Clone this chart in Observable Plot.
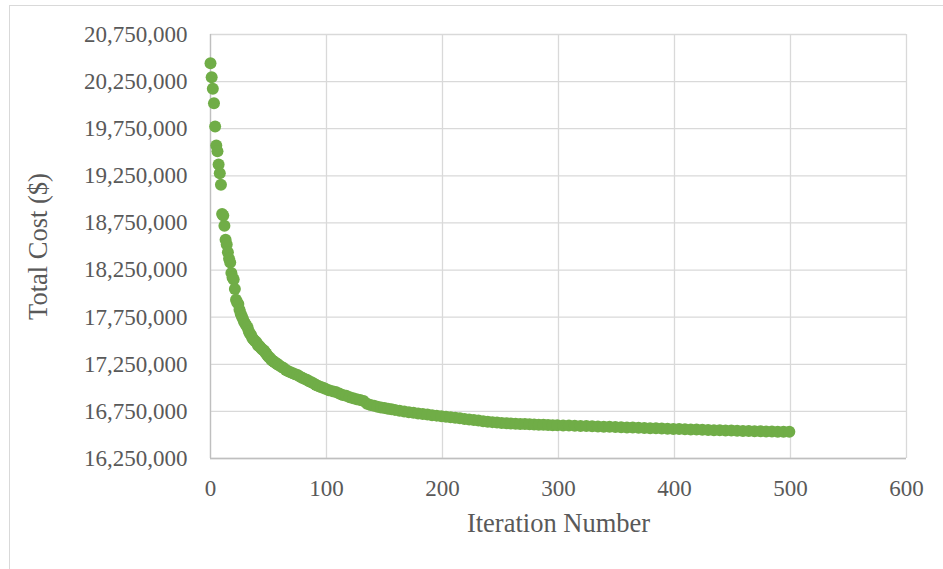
<!DOCTYPE html>
<html>
<head>
<meta charset="utf-8">
<script src="https://cdn.jsdelivr.net/npm/d3@7"></script>
<script src="https://cdn.jsdelivr.net/npm/@observablehq/plot@0.6"></script>
<style>
  html, body { margin: 0; padding: 0; background: #fff; overflow: hidden; }
  #wrap { position: relative; width: 943px; height: 569px; }
  #border { position: absolute; left: 9px; top: 5px; width: 960px; height: 620px; border: 1px solid #d9d9d9; box-sizing: border-box; pointer-events: none; }
  #chart { position: absolute; left: 0; top: 0; }
</style>
</head>
<body>
<div id="wrap"><div id="border"></div><div id="chart"></div></div>
<script>
const iterations = [
  0,1,2,3,4,5,6,7,8,9,10,11,12,13,14,15,16,17,18,19,20,21,22,23,24,25,26,27,28,29,
  30,31,32,33,34,35,36,37,38,39,40,41,42,43,44,45,46,47,48,49,50,51,52,53,54,55,56,57,58,59,
  61,63,65,67,69,71,73,75,77,79,81,83,85,87,89,91,93,95,97,99,
  102,105,108,111,114,117,120,123,126,129,132,135,138,141,144,147,150,153,156,159,
  163,167,171,175,179,183,187,191,195,199,203,207,211,215,219,223,227,231,235,239,
  243,247,251,255,259,263,267,271,275,279,283,287,291,295,299,
  304,309,314,319,324,329,334,339,344,349,354,359,364,369,374,379,384,389,394,399,
  404,409,414,419,424,429,434,439,444,449,454,459,464,469,474,479,484,489,494,499
];
const totalCost = [
  20445000,20297000,20174000,20021000,19774000,19572000,19511000,19370000,19278000,19155000,
  18845000,18830000,18720000,18571000,18520000,18440000,18370000,18330000,18220000,18170000,
  18150000,18050000,17935000,17905000,17890000,17830000,17790000,17760000,17730000,17700000,
  17680000,17660000,17640000,17600000,17575000,17560000,17530000,17515000,17500000,17490000,
  17475000,17450000,17445000,17430000,17415000,17404000,17395000,17380000,17365000,17345000,
  17330000,17320000,17305000,17290000,17285000,17275000,17265000,17255000,17250000,17240000,
  17225000,17210000,17190000,17175000,17165000,17155000,17145000,17135000,17120000,17108000,
  17095000,17085000,17070000,17060000,17045000,17030000,17020000,17010000,17000000,16990000,
  16975000,16965000,16955000,16940000,16925000,16915000,16900000,16890000,16880000,16872000,
  16860000,16830000,16818000,16810000,16800000,16792000,16785000,16778000,16772000,16766000,
  16758000,16750000,16742000,16735000,16728000,16722000,16716000,16710000,16705000,16699000,
  16694000,16688000,16683000,16676000,16670000,16664000,16658000,16652000,16646000,16641000,
  16636000,16632000,16628000,16625000,16622000,16619000,16617000,16615000,16613000,16611000,
  16609000,16607000,16605000,16604000,16603000,
  16601000,16599000,16597000,16596000,16594000,16592000,16590000,16588000,16586000,16584000,
  16582000,16580000,16578000,16576000,16574000,16572000,16570000,16568000,16566000,16564000,
  16562000,16560000,16559000,16557000,16555000,16553000,16551000,16550000,16548000,16546000,
  16545000,16543000,16542000,16540000,16539000,16537000,16536000,16535000,16534000,16533000
];
const xTicks = [0, 100, 200, 300, 400, 500, 600];
const yTicks = [16250000, 16750000, 17250000, 17750000, 18250000, 18750000, 19250000, 19750000, 20250000, 20750000];
const xTitle = "Iteration Number";
const yTitle = "Total Cost ($)";

const data = iterations.map((it, i) => ({iteration: it, cost: totalCost[i]}));

const chart = Plot.plot({
  width: 943,
  height: 569,
  marginLeft: 210,
  marginRight: 37,
  marginTop: 34,
  marginBottom: 111,
  style: {fontFamily: "'Liberation Serif', 'Times New Roman', serif", fontSize: "23px", color: "#595959", background: "transparent", overflow: "visible"},
  x: {domain: [0, 600]},
  y: {domain: [16250000, 20750000]},
  marks: [
    Plot.gridX(xTicks, {stroke: "#d9d9d9", strokeOpacity: 1, strokeWidth: 1.3}),
    Plot.gridY(yTicks, {stroke: "#d9d9d9", strokeOpacity: 1, strokeWidth: 1.3}),
    Plot.ruleX([0], {stroke: "#bfbfbf", strokeWidth: 1.3}),
    Plot.ruleY([16250000], {stroke: "#bfbfbf", strokeWidth: 1.3}),
    Plot.axisX(xTicks, {tickSize: 0, tickPadding: 21, fontSize: 23, fill: "#595959", label: null}),
    Plot.axisY(yTicks, {tickSize: 0, tickPadding: 23, fontSize: 23, fill: "#595959", tickFormat: d3.format(","), label: null}),
    Plot.dot(data, {x: "iteration", y: "cost", r: 6, fill: "#70AD47"}),
    Plot.text([xTitle], {text: d => d, frameAnchor: "bottom", dy: 73, fontSize: 26.5, fill: "#595959"}),
    Plot.text([yTitle], {text: d => d, frameAnchor: "left", textAnchor: "middle", dx: -172, rotate: -90, fontSize: 26.5, fill: "#595959"})
  ]
});
document.getElementById("chart").appendChild(chart);
</script>
</body>
</html>
